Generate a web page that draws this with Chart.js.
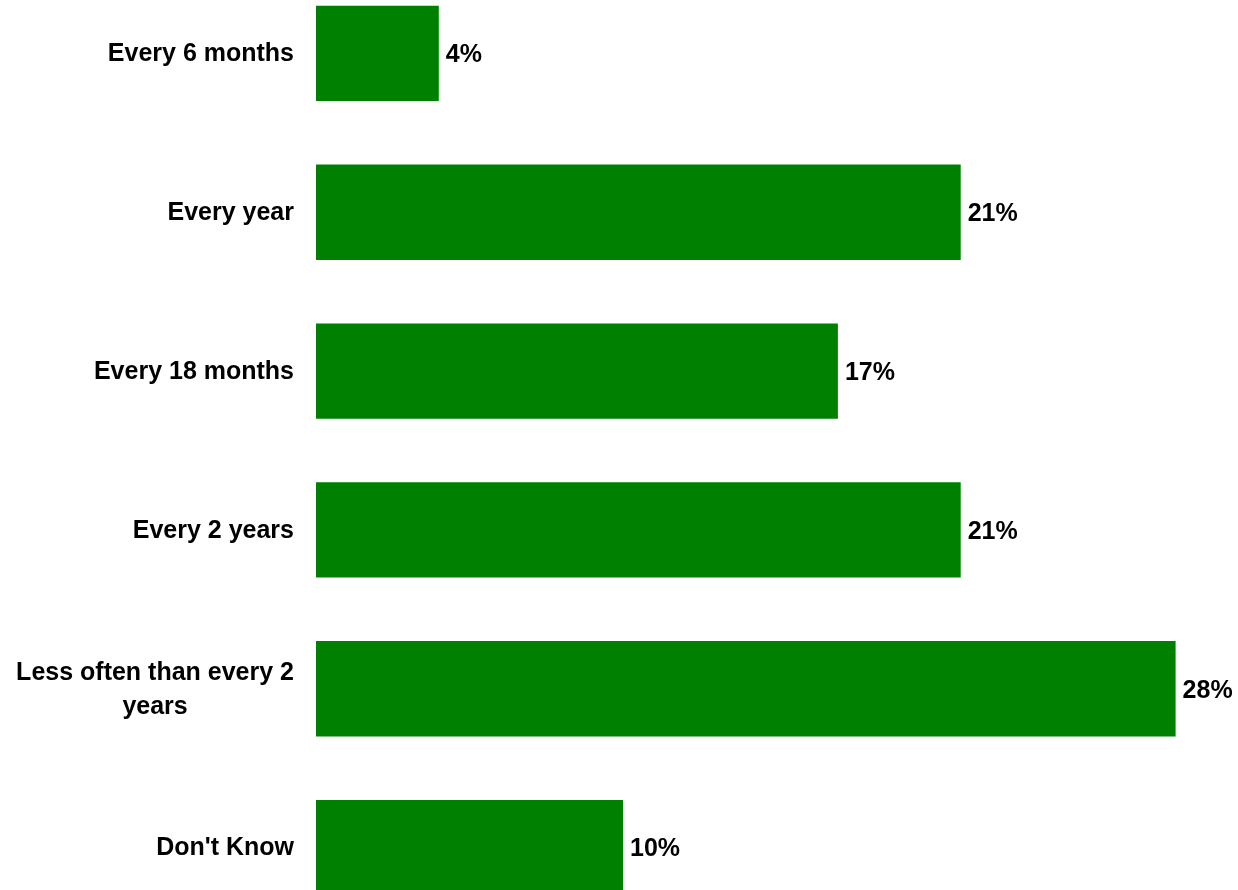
<!DOCTYPE html>
<html>
<head>
<meta charset="utf-8">
<script src="https://cdn.jsdelivr.net/npm/chart.js@4/dist/chart.umd.min.js"></script>
<style>
  html, body { margin: 0; padding: 0; background: #fff; overflow: hidden; }
  body { width: 1238px; height: 890px; position: relative; }
  #wrap { position: absolute; left: 0; top: -26px; width: 1238px; height: 953px; }
</style>
</head>
<body>
<div id="wrap"><canvas id="chart" width="1238" height="953"></canvas></div>
<script>
// Survey answers - how often
const categories = [
    'Every 6 months',
    'Every year',
    'Every 18 months',
    'Every 2 years',
    ['Less often than every 2', 'years'],
    "Don't Know"
];
const percents = [4, 21, 17, 21, 28, 10];

const FONT = "bold 25px 'Liberation Sans', Arial, sans-serif";
const LABEL_RIGHT = 294;
const LINE_HEIGHT = 34;

// Category labels: right edge fixed, wrapped lines centred on each other
const categoryLabels = {
    id: 'categoryLabels',
    afterDraw(chart) {
        const ctx = chart.ctx;
        const yScale = chart.scales.y;
        ctx.save();
        ctx.font = FONT;
        ctx.fillStyle = '#000';
        ctx.textAlign = 'center';
        ctx.textBaseline = 'middle';
        categories.forEach((label, i) => {
            const lines = Array.isArray(label) ? label : [label];
            const maxW = Math.max(...lines.map(l => ctx.measureText(l).width));
            const cx = LABEL_RIGHT - maxW / 2;
            const cy = yScale.getPixelForValue(i) + 1;
            const top = cy - (lines.length - 1) * LINE_HEIGHT / 2;
            lines.forEach((l, j) => ctx.fillText(l, cx, top + j * LINE_HEIGHT));
        });
        ctx.restore();
    }
};

// Percent labels just past the end of each bar
const valueLabels = {
    id: 'valueLabels',
    afterDatasetsDraw(chart) {
        const ctx = chart.ctx;
        const meta = chart.getDatasetMeta(0);
        ctx.save();
        ctx.font = FONT;
        ctx.fillStyle = '#000';
        ctx.textAlign = 'left';
        ctx.textBaseline = 'middle';
        meta.data.forEach((bar, i) => {
            ctx.fillText(percents[i] + '%', bar.x + 7, bar.y + 2);
        });
        ctx.restore();
    }
};

new Chart(document.getElementById('chart'), {
    type: 'bar',
    data: {
        labels: categories,
        datasets: [{
            data: percents,
            backgroundColor: '#008000',
            borderWidth: 0,
            barPercentage: 0.6,
            categoryPercentage: 1
        }]
    },
    options: {
        indexAxis: 'y',
        responsive: false,
        animation: false,
        layout: { padding: { left: 0, right: 1, top: 0, bottom: 0 } },
        plugins: {
            legend: { display: false },
            tooltip: { enabled: false }
        },
        scales: {
            x: {
                display: false,
                min: 0,
                max: 30
            },
            y: {
                grid: { display: false },
                border: { display: false },
                ticks: { display: false },
                afterFit(scale) { scale.width = 316; }
            }
        }
    },
    plugins: [categoryLabels, valueLabels]
});
</script>
</body>
</html>
